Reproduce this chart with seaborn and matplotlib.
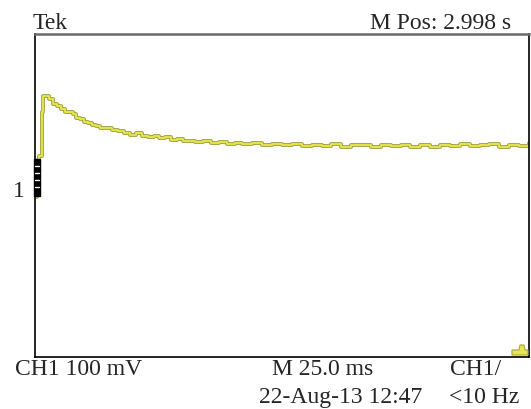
import matplotlib
matplotlib.use("Agg")
import matplotlib.pyplot as plt
import matplotlib.patheffects as pe
from matplotlib.patches import Rectangle, Polygon
import seaborn as sns
import pandas as pd

# Channel 1 acquisition: time (ms from left edge of screen) and voltage (mV, relative to ground marker)
time_ms = [0, 1.2, 2.2, 3.4, 4.2, 7, 9, 11, 13, 15, 17, 19, 21, 23, 25, 27, 29, 31, 33,
           36, 39, 42, 45, 48, 51, 54, 57, 60, 63, 66, 69, 72, 75, 78, 81, 85, 89, 93,
           97, 101, 105, 110, 115, 120, 125, 130, 135, 140, 145, 150, 155, 160, 165,
           170, 175, 180, 185, 190, 195, 200, 205, 210, 215, 220, 225, 230, 235, 240,
           245, 250]
volt_mv = [-20, -10, 82, 191, 230, 222, 210, 205, 198, 192, 190, 186, 176, 173, 166, 163,
           158, 155, 152, 150, 145, 143, 140, 135, 138, 131, 129, 132, 127, 129, 121, 123,
           118, 120, 116, 118, 114, 117, 112, 115, 111, 114, 109, 112, 108, 111, 106, 110,
           107, 111, 105, 109, 108, 104, 109, 106, 110, 105, 108, 103, 109, 107, 111, 106,
           109, 111, 105, 110, 107, 114]

header_left = "Tek"
header_right = "M Pos: 2.998 s"
footer_ch = "CH1 100 mV"
footer_time = "M 25.0 ms"
footer_date = "22-Aug-13 12:47"
footer_trig = "CH1/"
footer_filter = "<10 Hz"

df = pd.DataFrame({"t": time_ms, "v": volt_mv})

sns.set_theme(style="white")
plt.rcParams["font.family"] = ["Liberation Serif", "DejaVu Serif"]

fig = plt.figure(figsize=(5.31, 4.10), dpi=100)
ax = fig.add_axes([35 / 531, 1 - 358 / 410, 494 / 531, 323 / 410])

sns.lineplot(data=df, x="t", y="v", ax=ax, drawstyle="steps-post",
             color="#e8e84c", linewidth=1.3,
             path_effects=[pe.Stroke(linewidth=2.8, foreground="#a5a545"), pe.Normal()])

ax.set_xlim(0, 250)
ax.set_ylim(-416, 384)
ax.set_xticks([])
ax.set_yticks([])
ax.set_xlabel("")
ax.set_ylabel("")

for side in ["left", "bottom", "right"]:
    ax.spines[side].set_color("black")
    ax.spines[side].set_linewidth(1.2)
ax.spines["top"].set_color("#6a6a6a")
ax.spines["top"].set_linewidth(1.8)

# Channel 1 ground marker on the left edge
tr = ax.transAxes
ax.add_patch(Rectangle((-0.002, (358 - 197) / 323), 6 / 494, 37 / 323,
                       transform=tr, color="black", clip_on=False, zorder=5))
for yp in [167, 174, 181, 188]:
    ax.plot([0.001, 0.009], [(358 - yp) / 323] * 2, transform=tr, color="white",
            lw=1.0, clip_on=False, zorder=6)

# Trigger position marker at the lower right
def px(x, y):
    return ((x - 35) / 494, (358 - y) / 323)

ax.add_patch(Polygon([px(512, 356), px(512, 351), px(519, 351), px(520, 346),
                      px(524, 346), px(525, 351), px(528, 351), px(528, 356)],
                     closed=True, transform=tr, facecolor="#e8e84c", edgecolor="#a5a545",
                     lw=0.8, clip_on=False, zorder=5))

fs = 17
fig.text(33 / 531, 1 - 29 / 410, header_left, fontsize=fs, ha="left", va="baseline")
fig.text(511 / 531, 1 - 29 / 410, header_right, fontsize=fs, ha="right", va="baseline")
fig.text(13 / 531, 1 - 197 / 410, "1", fontsize=fs, ha="left", va="baseline")
fig.text(15 / 531, 1 - 375 / 410, footer_ch, fontsize=fs, ha="left", va="baseline")
fig.text(272 / 531, 1 - 375 / 410, footer_time, fontsize=fs, ha="left", va="baseline")
fig.text(259 / 531, 1 - 403 / 410, footer_date, fontsize=fs, ha="left", va="baseline")
fig.text(450 / 531, 1 - 375 / 410, footer_trig, fontsize=fs, ha="left", va="baseline")
fig.text(449 / 531, 1 - 403 / 410, footer_filter, fontsize=fs, ha="left", va="baseline")

fig.savefig("out.png", dpi=100, facecolor="white")
